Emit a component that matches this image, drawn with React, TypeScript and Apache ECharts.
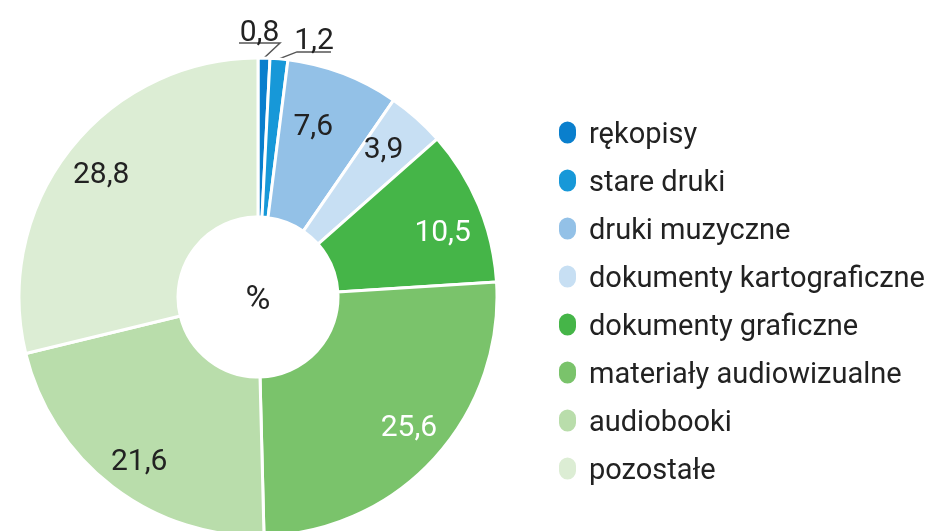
import React, { useEffect, useRef } from "react";
import * as echarts from "echarts";

const categories = [
  "rękopisy",
  "stare druki",
  "druki muzyczne",
  "dokumenty kartograficzne",
  "dokumenty graficzne",
  "materiały audiowizualne",
  "audiobooki",
  "pozostałe",
];
const values = [0.8, 1.2, 7.6, 3.9, 10.5, 25.6, 21.6, 28.8];
const colors = ["#0a7fcd", "#1798d8", "#93c1e7", "#c7dff3", "#45b548", "#7ac36b", "#b9ddab", "#dcedd4"];
const insideLabelColors = ["#222", "#222", "#222", "#222", "#ffffff", "#ffffff", "#222", "#222"];
const outsideLabelIdx = [0, 1];
const nearLabelIdx = [2, 3];
const centerText = "%";

const FONT = "'Roboto', sans-serif";
const fmt = (v: number) => String(v).replace(".", ",");

// small label nudges (style only)
const labelNudge: Record<number, [number, number]> = {
  2: [-10, -2],
  3: [4, -13],
  4: [-2, 11],
  5: [2, -8],
  6: [4, 2],
  7: [2, 0],
};

export default function App() {
  const ref = useRef<HTMLDivElement>(null);
  useEffect(() => {
    if (!ref.current) return;
    const chart = echarts.init(ref.current, null, { renderer: "svg" });
    const center = [258, 297];
    const mainData = categories.map((name, i) => ({
      name,
      value: values[i],
      itemStyle: { color: colors[i] },
      label: outsideLabelIdx.includes(i) ? { show: true, position: "outside" } : { show: false },
      labelLine: { show: outsideLabelIdx.includes(i) },
    }));
    const overlay = (idx: (i: number) => boolean) =>
      categories.map((name, i) => ({
        name,
        value: values[i],
        label: { show: idx(i), color: insideLabelColors[i] },
      }));
    const overlayBase = {
      type: "pie",
      center,
      startAngle: 90,
      clockwise: true,
      silent: true,
      legendHoverLink: false,
      avoidLabelOverlap: false,
      itemStyle: { color: "rgba(0,0,0,0)", borderWidth: 0 },
      label: { position: "inside", fontFamily: FONT, fontSize: 30, formatter: (p: any) => fmt(p.value) },
      labelLine: { show: false },
      labelLayout: (params: any) => {
        const n = labelNudge[params.dataIndex];
        return n ? { dx: n[0], dy: n[1] } : {};
      },
    };
    chart.setOption({
      animation: false,
      legend: {
        orient: "vertical",
        left: 552,
        top: 113,
        itemWidth: 19,
        itemHeight: 24,
        itemGap: 19,
        data: categories,
        icon: "path://M9.5,0 C14.7,0 19,4.3 19,9.5 L19,14.5 C19,19.7 14.7,24 9.5,24 C4.3,24 0,19.7 0,14.5 L0,9.5 C0,4.3 4.3,0 9.5,0 Z",
        textStyle: { fontFamily: FONT, fontSize: 29, color: "#222", lineHeight: 29, padding: [0, 0, 0, 7] },
        selectedMode: false,
      },
      graphic: [
        {
          type: "text",
          x: center[0],
          y: center[1],
          style: { text: centerText, fontFamily: FONT, fontSize: 34, fill: "#222", align: "center", verticalAlign: "middle" },
        },
      ],
      series: [
        {
          type: "pie",
          center,
          radius: [80, 239],
          startAngle: 90,
          clockwise: true,
          silent: true,
          avoidLabelOverlap: false,
          itemStyle: { borderColor: "#ffffff", borderWidth: 3 },
          label: { fontFamily: FONT, fontSize: 30, color: "#222", formatter: (p: any) => fmt(p.value) },
          labelLine: { length: 10, length2: 30, lineStyle: { color: "#555", width: 1.5 } },
          labelLayout: (params: any) => {
            const pts = params.labelLinePoints;
            if (!pts) return {};
            const p0 = pts[0];
            if (params.dataIndex === 0) {
              const elbow = [p0[0] + 16, p0[1] - 15];
              const end = [elbow[0] - 41, elbow[1]];
              return {
                x: (elbow[0] + end[0]) / 2,
                y: elbow[1] + 2,
                align: "center",
                verticalAlign: "bottom",
                labelLinePoints: [p0, elbow, end],
              };
            }
            if (params.dataIndex === 1) {
              const elbow = [p0[0] + 18, p0[1] - 7];
              const end = [elbow[0] + 34, elbow[1]];
              return {
                x: (elbow[0] + end[0]) / 2,
                y: elbow[1] + 2,
                align: "center",
                verticalAlign: "bottom",
                labelLinePoints: [p0, elbow, end],
              };
            }
            return {};
          },
          data: mainData,
        },
        {
          ...overlayBase,
          radius: [159, 239],
          data: overlay((i) => !outsideLabelIdx.includes(i) && !nearLabelIdx.includes(i)),
        },
        {
          ...overlayBase,
          radius: [121, 239],
          data: overlay((i) => nearLabelIdx.includes(i)),
        },
      ],
    });
    return () => chart.dispose();
  }, []);
  return <div ref={ref} style={{ position: "fixed", left: 0, top: 0, width: 946, height: 531 }} />;
}
